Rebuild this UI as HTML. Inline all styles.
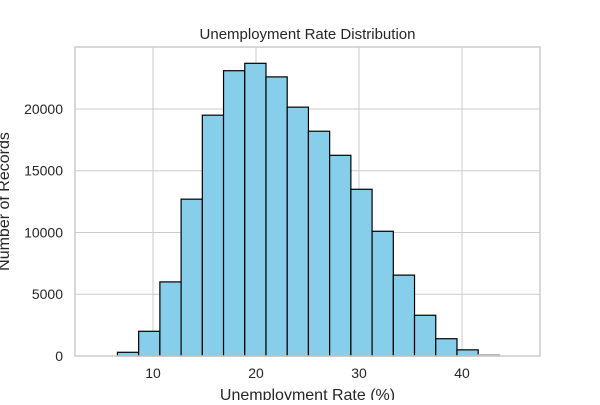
<!DOCTYPE html>
<html><head><meta charset="utf-8"><style>
body{margin:0;background:#fff}
text{font-family:"Liberation Sans",Arial,sans-serif;fill:#262626}
</style></head><body>
<svg id="chart" width="600" height="400" viewBox="0 0 600 400" xmlns="http://www.w3.org/2000/svg"></svg>
<script>
const binStart = 6.55;
const binWidth = 2.06;
const counts = [300,2000,6000,12700,19500,23100,23700,22600,20150,18200,16250,13500,10100,6550,3300,1400,500,100];
const xTicks = [10,20,30,40];
const yTicks = [0,5000,10000,15000,20000];

const L=75,R=540,T=47,B=356;
const xMin=2.43,xMax=47.57,yMax=25020;
const xs=v=>L+(v-xMin)/(xMax-xMin)*(R-L);
const ys=v=>B-v/yMax*(B-T);
const svg=document.getElementById('chart');
const NS='http://www.w3.org/2000/svg';
function mk(tag,attrs,parent){const e=document.createElementNS(NS,tag);for(const k in attrs)e.setAttribute(k,attrs[k]);(parent||svg).appendChild(e);return e;}

xTicks.forEach(t=>{
  const g=mk('line',{x1:xs(t),x2:xs(t),y1:T,y2:B,stroke:'#cccccc','stroke-width':1});
  
  
  const tx=mk('text',{x:xs(t),y:B+22,'text-anchor':'middle','font-size':14});
  tx.textContent=t;
  
  
});
yTicks.forEach(t=>{
  const g=mk('line',{x1:L,x2:R,y1:ys(t),y2:ys(t),stroke:'#cccccc','stroke-width':1});
  
  
  const tx=mk('text',{x:L-12,y:ys(t)+5,'text-anchor':'end','font-size':14});
  tx.textContent=t;
  
  
});
counts.forEach((c,i)=>{
  const x0=binStart+i*binWidth;
  const r=mk('rect',{x:xs(x0),y:ys(c),width:xs(x0+binWidth)-xs(x0),height:ys(0)-ys(c),fill:'#87ceeb',stroke:c<200?'#aaaaaa':'#000','stroke-width':1.2});
  
  
});
const frame=mk('rect',{x:L,y:T,width:R-L,height:B-T,fill:'none',stroke:'#cccccc','stroke-width':1.5});


const title=mk('text',{x:(L+R)/2,y:39,'text-anchor':'middle','font-size':15});
title.textContent='Unemployment Rate Distribution';


const xl=mk('text',{x:(L+R)/2,y:400,'text-anchor':'middle','font-size':16});
xl.textContent='Unemployment Rate (%)';


const yl=mk('text',{x:0,y:0,'text-anchor':'middle','font-size':16,transform:'translate(9,'+((T+B)/2)+') rotate(-90)'});
yl.textContent='Number of Records';


</script>
</body></html>
